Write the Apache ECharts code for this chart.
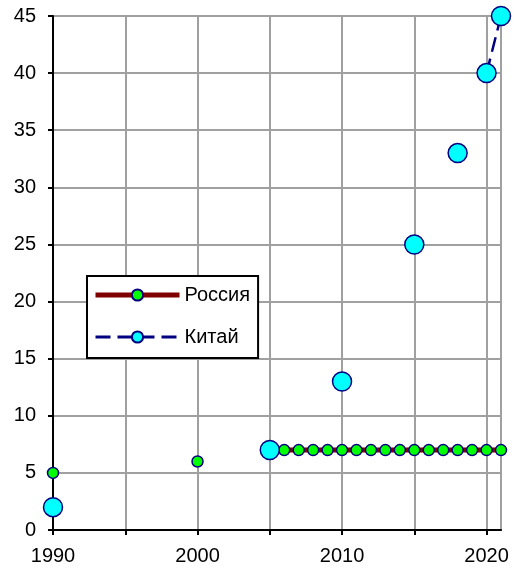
<!DOCTYPE html>
<html><head><meta charset="utf-8">
<script src="https://cdn.jsdelivr.net/npm/echarts@6/dist/echarts.min.js"></script>
<style>html,body{margin:0;padding:0;background:#fff}#c{width:514px;height:574px}</style>
</head><body><div id="c"></div>
<script>
const russiaYears = [1990, 2000, 2005, 2006, 2007, 2008, 2009, 2010, 2011, 2012, 2013, 2014, 2015, 2016, 2017, 2018, 2019, 2020, 2021];
const russiaValues = [5, 6, 7, 7, 7, 7, 7, 7, 7, 7, 7, 7, 7, 7, 7, 7, 7, 7, 7];
const chinaYears = [1990, 2005, 2010, 2015, 2018, 2020, 2021];
const chinaValues = [2, 7, 13, 25, 33, 40, 45];
const seriesNames = ['Россия', 'Китай'];

function withBreaks(years, values) {
  const out = [];
  for (let i = 0; i < years.length; i++) {
    if (i > 0 && years[i] - years[i - 1] > 1) out.push([years[i - 1] + 0.5, '-']);
    out.push([years[i], values[i]]);
  }
  return out;
}

const font = 'Liberation Sans, Arial, sans-serif';
const chart = echarts.init(document.getElementById('c'), null, {renderer: 'canvas'});
chart.setOption({
  animation: false,
  grid: {left: 53, right: 13, top: 16, bottom: 44, show: true, borderColor: '#a0a0a0', borderWidth: 2, backgroundColor: 'transparent'},
  xAxis: {
    type: 'value', min: 1990, max: 2021, interval: 5,
    axisLine: {show: true, lineStyle: {color: '#000', width: 2}},
    axisTick: {show: true, length: 5, lineStyle: {color: '#000', width: 2}},
    axisLabel: {color: '#000', fontSize: 20, fontFamily: font, margin: 16,
      showMaxLabel: false,
      formatter: v => (v % 10 === 0 ? String(v) : '')},
    splitLine: {show: true, lineStyle: {color: '#a0a0a0', width: 2}}
  },
  yAxis: {
    type: 'value', min: 0, max: 45, interval: 5,
    axisLine: {show: true, lineStyle: {color: '#000', width: 2}},
    axisTick: {show: true, length: 5, lineStyle: {color: '#000', width: 2}},
    axisLabel: {color: '#000', fontSize: 20, fontFamily: font, margin: 17},
    splitLine: {show: true, lineStyle: {color: '#a0a0a0', width: 2}}
  },
  legend: {
    orient: 'vertical', left: 87, top: 276,
    data: [
      {name: seriesNames[0], lineStyle: {width: 5, color: '#800000'}},
      {name: seriesNames[1], lineStyle: {width: 3, color: '#000080', type: [15, 7]}}
    ],
    backgroundColor: '#fff', borderColor: '#000', borderWidth: 2,
    padding: [9, 8, 11, 6], itemGap: 22, itemWidth: 84, itemHeight: 14,
    textStyle: {color: '#000', fontSize: 20, fontFamily: font}
  },
  series: [
    {
      name: seriesNames[0], type: 'line', connectNulls: false,
      data: withBreaks(russiaYears, russiaValues),
      symbol: 'circle', symbolSize: 11,
      lineStyle: {color: '#800000', width: 5},
      itemStyle: {color: '#00ff00', borderColor: '#000080', borderWidth: 1.5},
      z: 2
    },
    {
      name: seriesNames[1], type: 'line', connectNulls: false,
      data: withBreaks(chinaYears, chinaValues),
      symbol: 'circle', symbolSize: 19,
      lineStyle: {color: '#000080', width: 2.5, type: [15, 7]},
      itemStyle: {color: '#00ffff', borderColor: '#000080', borderWidth: 1.5},
      z: 3
    }
  ]
});
</script></body></html>
